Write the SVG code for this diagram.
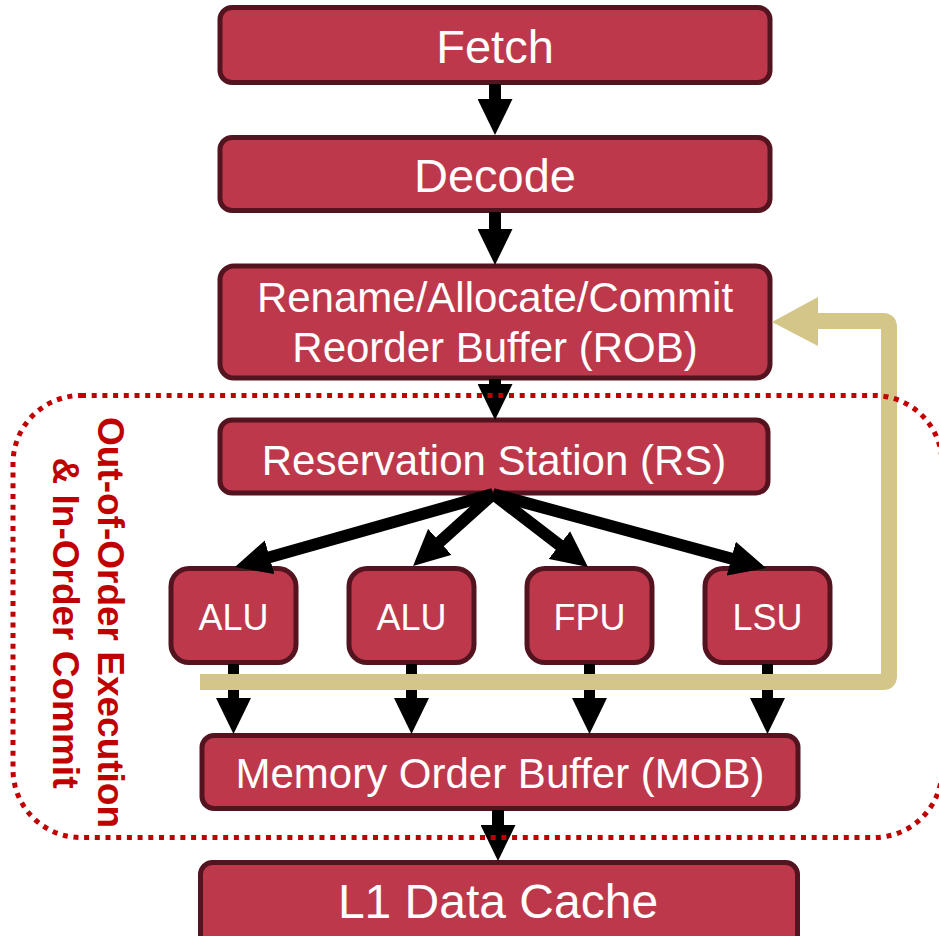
<svg xmlns="http://www.w3.org/2000/svg" width="939" height="936" viewBox="0 0 939 936">
<defs>
<style>
.box{fill:#BE384C;stroke:#53141F;stroke-width:5}
.t{fill:#FFFFFF;font-family:"Liberation Sans",Arial,sans-serif;text-anchor:middle}
.arr{stroke:#000;fill:none;marker-end:url(#ah)}
.gold{stroke:#D4C589;stroke-width:16;fill:none}
.vt{fill:#C00000;font-family:"Liberation Sans",Arial,sans-serif;font-weight:bold;font-size:37px;text-anchor:middle}
</style>
<marker id="ah" markerUnits="userSpaceOnUse" viewBox="0 0 36 35" markerWidth="36" markerHeight="35" refX="16" refY="17.5" orient="auto">
<path d="M0,0 L36,17.5 L0,35 z" fill="#000"/>
</marker>
</defs>
<rect width="939" height="936" fill="#FFFFFF"/>
<g id="fetch"><rect class="box" x="220" y="7.5" width="550" height="75" rx="12"/><text class="t" x="495" y="63" font-size="47">Fetch</text></g>
<g id="decode"><rect class="box" x="220" y="137.5" width="550" height="73" rx="12"/><text class="t" x="495" y="192" font-size="47">Decode</text></g>
<g id="rob"><rect class="box" x="220" y="266" width="550" height="112" rx="14"/><text class="t" x="495" y="312" font-size="42">Rename/Allocate/Commit</text><text class="t" x="495" y="362" font-size="42">Reorder Buffer (ROB)</text></g>
<g id="rs"><rect class="box" x="220" y="420" width="548" height="73" rx="12"/><text class="t" x="494" y="475" font-size="42">Reservation Station (RS)</text></g>
<g id="alu1"><rect class="box" x="171" y="568.5" width="125" height="94" rx="18"/><text class="t" x="233.5" y="630" font-size="36">ALU</text></g>
<g id="alu2"><rect class="box" x="349" y="568.5" width="125" height="94" rx="18"/><text class="t" x="411.5" y="630" font-size="36">ALU</text></g>
<g id="fpu"><rect class="box" x="527" y="568.5" width="125" height="94" rx="18"/><text class="t" x="589.5" y="630" font-size="36">FPU</text></g>
<g id="lsu"><rect class="box" x="705" y="568.5" width="125" height="94" rx="18"/><text class="t" x="767.5" y="630" font-size="36">LSU</text></g>
<g id="mob"><rect class="box" x="202" y="735.5" width="596" height="73" rx="12"/><text class="t" x="500" y="788" font-size="42">Memory Order Buffer (MOB)</text></g>
<g id="l1"><rect class="box" x="200.5" y="862.5" width="597" height="95" rx="12"/><text class="t" x="498" y="918" font-size="48">L1 Data Cache</text></g>
<g id="connectors">
<line class="arr" x1="495" y1="84" x2="495" y2="115" stroke-width="12"/>
<line class="arr" x1="495" y1="212" x2="495" y2="245" stroke-width="12"/>
<line class="arr" x1="495" y1="379" x2="495" y2="400" stroke-width="12"/>
<line class="arr" x1="498" y1="810" x2="498" y2="841" stroke-width="12"/>
<line class="arr" x1="493" y1="494" x2="254.2" y2="561.6" stroke-width="12"/>
<line class="arr" x1="493" y1="494" x2="427.9" y2="552.6" stroke-width="12"/>
<line class="arr" x1="493" y1="494" x2="572.1" y2="554.8" stroke-width="12"/>
<line class="arr" x1="493" y1="494" x2="746.7" y2="562.8" stroke-width="12"/>
<line class="arr" x1="233.5" y1="664" x2="233.5" y2="714" stroke-width="11"/>
<line class="arr" x1="411.5" y1="664" x2="411.5" y2="714" stroke-width="11"/>
<line class="arr" x1="589.5" y1="664" x2="589.5" y2="714" stroke-width="11"/>
<line class="arr" x1="767.5" y1="664" x2="767.5" y2="714" stroke-width="11"/>
<path class="gold" d="M200,682 H883 Q889,682 889,676 V327 Q889,321 883,321 H814"/>
<polygon points="818,297 772,322 818,346" fill="#D4C589"/>
</g>
<g id="ooo-region">
<rect x="13" y="395.5" width="929" height="442" rx="68" fill="none" stroke="#C00000" stroke-width="5" stroke-dasharray="5 5.7"/>
<text class="vt" transform="translate(98,622.5) rotate(90)">Out-of-Order Execution</text>
<text class="vt" transform="translate(53,623) rotate(90)">&amp; In-Order Commit</text>
</g>
</svg>
